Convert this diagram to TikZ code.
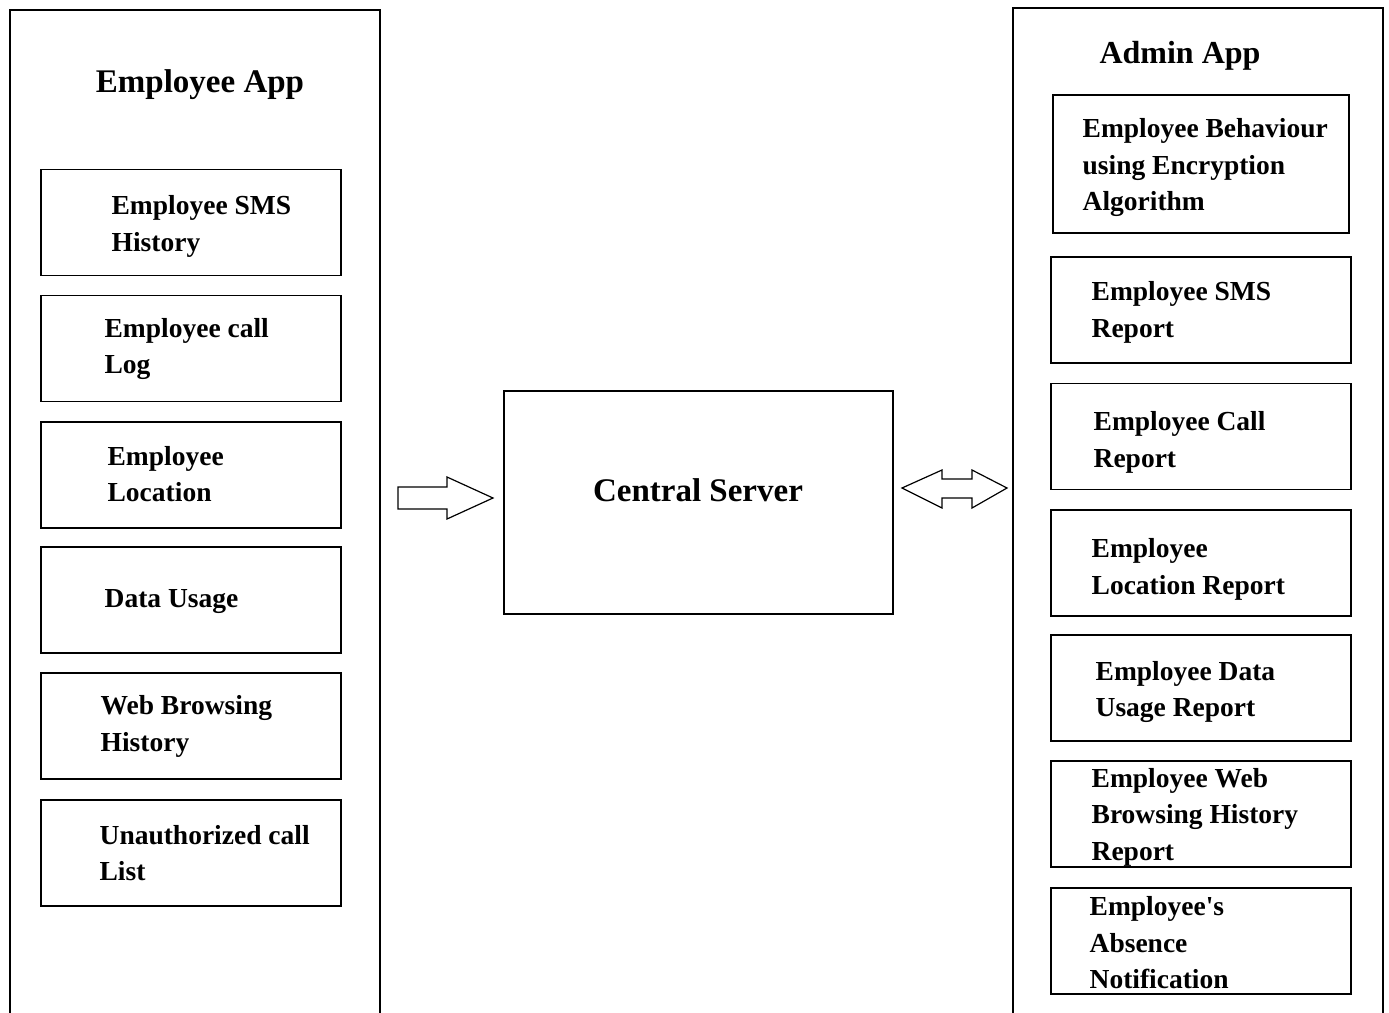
\documentclass[tikz,border=0pt]{standalone}
\usepackage{fontspec}
\setmainfont{Liberation Serif}

\begin{document}
\begin{tikzpicture}[x=1pt,y=-1pt,thick,
    panel/.style={draw,line width=1.5pt,minimum width=370pt,minimum height=1040pt,inner sep=0pt},
    item box/.style={draw,line width=1.5pt,minimum width=300pt,minimum height=106pt,inner sep=0pt},
    item text/.style={anchor=west,align=left,inner sep=0pt,font=\bfseries\fontsize{27.5}{36.5}\selectfont},
    title/.style={font=\bfseries\fontsize{33}{40}\selectfont},
    block arrow/.style={draw,line width=1.2pt,line join=miter}]
            \clip (0,0) rectangle (1389,1012);

            % the two apps
            \node[panel] (emp) at (195,530) {};
            \node[panel] (adm) at (1198,528) {};
            \node[title] (emptitle) at (200,85) {Employee App};
            \node[title,font=\bfseries\fontsize{32}{40}\selectfont] (admtitle) at (1180,56) {Admin App};

            % employee side
            \node[item box] (sms) at (191,222.5) {};
            \node[item box] (call) [below of=sms,node distance=126pt] {};
            \node[item box] (loc) [below of=call,node distance=126.5pt] {};
            \node[item box] (data) [below of=loc,node distance=125pt] {};
            \node[item box] (web) [below of=data,node distance=126pt] {};
            \node[item box] (unauth) [below of=web,node distance=127pt] {};

            \node[item text] (smstext) at ([xshift=71pt,yshift=-4pt]sms.west) {Employee SMS\\History};
            \node[item text] (calltext) at ([xshift=64pt,yshift=-0.5pt]call.west) {Employee call\\Log};
            \node[item text] (loctext) at ([xshift=67pt,yshift=1pt]loc.west) {Employee\\Location};
            \node[item text] (datatext) at ([xshift=64pt,yshift=-2pt]data.west) {Data Usage};
            \node[item text] (webtext) at ([xshift=60pt,yshift=-0.5pt]web.west) {Web Browsing\\History};
            \node[item text] (unauthtext) at ([xshift=59pt]unauth.west) {Unauthorized call\\List};

            % server
            \node[draw,line width=1.5pt,minimum width=389pt,minimum height=223pt,inner sep=0pt] (server) at (698.5,502.5) {};
            \node[title] (servertext) at (698,490) {Central Server};

            % admin side
            \node[item box,minimum width=296pt,minimum height=138pt] (behav) at (1201,164) {};
            \node[item box] (smsrep) at (1201,310) {};
            \node[item box] (callrep) [below of=smsrep,node distance=126.5pt] {};
            \node[item box] (locrep) [below of=callrep,node distance=126.5pt] {};
            \node[item box] (datarep) [below of=locrep,node distance=125pt] {};
            \node[item box] (webrep) [below of=datarep,node distance=126pt] {};
            \node[item box] (absent) [below of=webrep,node distance=127pt] {};

            \node[item text] (behavtext) at ([xshift=30pt,yshift=-3.5pt]behav.west) {Employee Behaviour\\using Encryption\\Algorithm};
            \node[item text] (smsreptext) at ([xshift=41pt,yshift=-2.5pt]smsrep.west) {Employee SMS\\Report};
            \node[item text] (callreptext) at ([xshift=43pt,yshift=-6pt]callrep.west) {Employee Call\\Report};
            \node[item text] (locreptext) at ([xshift=41pt,yshift=-6.5pt]locrep.west) {Employee\\Location Report};
            \node[item text] (datareptext) at ([xshift=45pt,yshift=-4pt]datarep.west) {Employee Data\\Usage Report};
            \node[item text] (webreptext) at ([xshift=41pt,yshift=-3pt]webrep.west) {Employee Web\\Browsing History\\Report};
            \node[item text] (absenttext) at ([xshift=39pt,yshift=-2pt]absent.west) {Employee\textquotesingle s\\Absence\\Notification};

            % arrows
            \draw[block arrow] (398,487) -- (447,487) -- (447,477) -- (493,498)
                -- (447,519) -- (447,509) -- (398,509) -- cycle;
            \draw[block arrow] (902,488) -- (942,470) -- (942,479) -- (972,479) -- (972,470)
                -- (1007,488) -- (972,508) -- (972,498) -- (942,498) -- (942,508) -- cycle;
        \end{tikzpicture}
\end{document}
